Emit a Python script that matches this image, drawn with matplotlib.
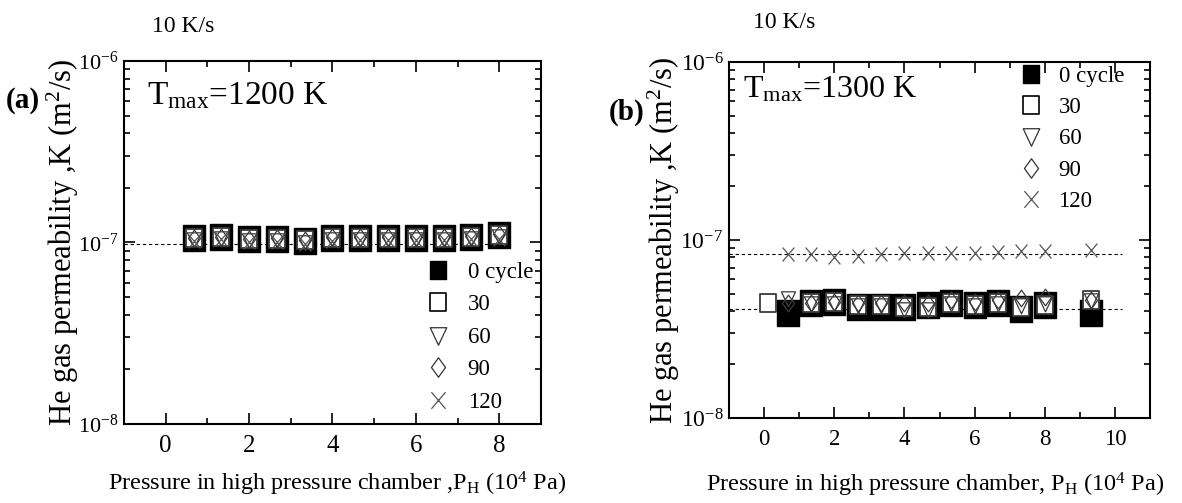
import matplotlib
matplotlib.use("Agg")
import matplotlib.pyplot as plt
from matplotlib.lines import Line2D
from matplotlib.path import Path
from matplotlib.ticker import LogLocator, MultipleLocator, NullFormatter, FixedLocator
import numpy as np

plt.rcParams['font.family'] = ['Liberation Serif', 'DejaVu Serif']
plt.rcParams['mathtext.fontset'] = 'custom'
plt.rcParams['mathtext.rm'] = 'Liberation Serif'
plt.rcParams['mathtext.it'] = 'Liberation Serif'
plt.rcParams['mathtext.bf'] = 'Liberation Serif:bold'

# ---------------- data ----------------
cycles = ["0 cycle", "30", "60", "90", "120"]

# panel (a): Tmax = 1200 K
x_a = [0.67, 1.33, 2.0, 2.67, 3.33, 4.0, 4.67, 5.33, 6.0, 6.67, 7.33, 8.0]
k0_a = [1.06, 1.07, 1.045, 1.045, 1.02, 1.06, 1.06, 1.06, 1.06, 1.06, 1.075, 1.10]
k30_a = [1.06, 1.07, 1.05, 1.05, 1.03, 1.06, 1.06, 1.06, 1.06, 1.06, 1.07, 1.10]
k60_a = [1.04, 1.06, 1.03, 1.03, 1.00, 1.04, 1.05, 1.05, 1.05, 1.05, 1.06, 1.08]
k90_a = [1.06, 1.07, 1.05, 1.06, 1.03, 1.07, 1.07, 1.07, 1.07, 1.07, 1.08, 1.11]
k120_a = [1.02, 1.04, 1.01, 1.00, 0.98, 1.02, 1.03, 1.03, 1.03, 1.03, 1.04, 1.04]
fit_a = [0.98]
fit_range_a = [-1.0, 8.2]

# panel (b): Tmax = 1300 K
x0_b = [0.67, 1.33, 2.0, 2.67, 3.33, 4.0, 4.67, 5.33, 6.0, 6.67, 7.33, 8.0, 9.33]
k0_b = [0.39, 0.44, 0.45, 0.42, 0.42, 0.42, 0.43, 0.44, 0.43, 0.44, 0.41, 0.43, 0.39]
x30_b = [0.1, 1.33, 2.0, 2.67, 3.33, 4.0, 4.67, 5.33, 6.0, 6.67, 7.33, 8.0, 9.33]
k30_b = [0.44, 0.44, 0.45, 0.43, 0.43, 0.42, 0.42, 0.44, 0.43, 0.44, 0.42, 0.43, 0.46]
x_b = [0.67, 1.33, 2.0, 2.67, 3.33, 4.0, 4.67, 5.33, 6.0, 6.67, 7.33, 8.0, 9.33]
k60_b = [0.47, 0.44, 0.44, 0.43, 0.43, 0.41, 0.41, 0.44, 0.43, 0.44, 0.43, 0.44, 0.46]
k90_b = [0.44, 0.44, 0.45, 0.44, 0.44, 0.44, 0.44, 0.46, 0.45, 0.46, 0.47, 0.48, 0.46]
k120_b = [0.83, 0.83, 0.806, 0.813, 0.834, 0.84, 0.84, 0.84, 0.84, 0.86, 0.87, 0.87, 0.88]
fit_b = [0.834, 0.41]
fit_range_b = [-1.0, 10.2]

scale = 1e-7
xticks_a = [0, 2, 4, 6, 8]
xticks_b = [0, 2, 4, 6, 8, 10]
yticks = [1e-8, 1e-7, 1e-6]
ytick_labels = [r"$\mathregular{10^{-8}}$", r"$\mathregular{10^{-7}}$", r"$\mathregular{10^{-6}}$"]

# ---------------- markers (slightly narrow, as in the reference) ----------------
sx = 0.85
def rect():
    return Path([(-sx, -1), (sx, -1), (sx, 1), (-sx, 1), (-sx, -1)],
                [Path.MOVETO, Path.LINETO, Path.LINETO, Path.LINETO, Path.CLOSEPOLY])
def tri_down():
    return Path([(-sx, 0.8), (sx, 0.8), (0, -1), (-sx, 0.8)],
                [Path.MOVETO, Path.LINETO, Path.LINETO, Path.CLOSEPOLY])
def diamond():
    return Path([(0, -1), (sx * 0.85, 0), (0, 1), (-sx * 0.85, 0), (0, -1)],
                [Path.MOVETO, Path.LINETO, Path.LINETO, Path.LINETO, Path.CLOSEPOLY])
def cross():
    return Path([(-sx * 0.8, -0.8), (sx * 0.8, 0.8), (-sx * 0.8, 0.8), (sx * 0.8, -0.8)],
                [Path.MOVETO, Path.LINETO, Path.MOVETO, Path.LINETO])

M_SQ, M_TRI, M_DIA, M_X = rect(), tri_down(), diamond(), cross()
gray = "#3a3a3a"

def draw_series(ax, xs, ys, kind):
    ys = np.asarray(ys) * scale
    if kind == 0:
        ax.plot(xs, ys, ls='none', marker=M_SQ, ms=18.5, mfc='black', mec='black', mew=1.0, zorder=3)
    elif kind == 1:
        ax.plot(xs, ys, ls='none', marker=M_SQ, ms=13, mfc='white', mec=gray, mew=1.3, zorder=4)
    elif kind == 2:
        ax.plot(xs, ys, ls='none', marker=M_TRI, ms=12, mfc='none', mec=gray, mew=0.9, zorder=5)
    elif kind == 3:
        ax.plot(xs, ys, ls='none', marker=M_DIA, ms=12, mfc='none', mec=gray, mew=0.9, zorder=6)
    else:
        ax.plot(xs, ys, ls='none', marker=M_X, ms=10, mfc='none', mec="#555555", mew=0.9, zorder=7)

def legend_handles():
    return [
        Line2D([], [], ls='none', marker=M_SQ, ms=13.5, mfc='black', mec='black'),
        Line2D([], [], ls='none', marker=M_SQ, ms=13.5, mfc='white', mec='black', mew=1.2),
        Line2D([], [], ls='none', marker=M_TRI, ms=14, mfc='none', mec='#333333', mew=0.9),
        Line2D([], [], ls='none', marker=M_DIA, ms=14, mfc='none', mec='#333333', mew=0.9),
        Line2D([], [], ls='none', marker=M_X, ms=12, mfc='none', mec='#555555', mew=0.9),
    ]

def style_axes(ax, xlim, xticks, xtick_fs, ytick_fs):
    ax.set_yscale('log')
    ax.set_ylim(1e-8, 1e-6)
    ax.set_xlim(*xlim)
    ax.set_xticks(xticks)
    ax.set_xticklabels([str(t) for t in xticks], fontsize=xtick_fs)
    ax.xaxis.set_minor_locator(MultipleLocator(1))
    ax.yaxis.set_major_locator(FixedLocator(yticks))
    ax.set_yticklabels(ytick_labels, fontsize=ytick_fs)
    ax.yaxis.set_minor_locator(LogLocator(base=10, subs=np.arange(2, 10)))
    ax.yaxis.set_minor_formatter(NullFormatter())
    ax.tick_params(which='both', direction='in', top=True, right=True, width=1.2)
    ax.tick_params(which='major', length=8)
    ax.tick_params(axis='y', which='major', pad=4)
    ax.tick_params(axis='x', which='major', pad=8)
    ax.tick_params(which='minor', length=4)
    for s in ax.spines.values():
        s.set_linewidth(1.5)

fig = plt.figure(figsize=(11.82, 5.03), dpi=100)
fig.patch.set_facecolor('white')

# ---------------- panel (a) ----------------
ax1 = fig.add_axes([0.1049, 0.1571, 0.3528, 0.7216])
style_axes(ax1, (-1, 9), xticks_a, 18, 16)
ax1.plot(fit_range_a, [fit_a[0] * scale] * 2, ls=(0, (3, 2.5)), color='black', lw=0.8, zorder=2)
for kind, ys in enumerate([k0_a, k30_a, k60_a, k90_a, k120_a]):
    draw_series(ax1, x_a, ys, kind)
ax1.set_ylabel(r"He gas permeability ,K (m$\mathregular{^2}$/s)", fontsize=22)
ax1.yaxis.set_label_coords(-0.102, 0.5)
ax1.set_xlabel(r"Pressure in high pressure chamber ,P$\mathregular{_H}$ (10$\mathregular{^4}$ Pa)",
               fontsize=17.5)
ax1.xaxis.set_label_coords(0.51, -0.125)
ax1.text(0.055, 0.88, r"T$\mathregular{_{max}}$=1200 K", transform=ax1.transAxes, fontsize=24)
leg1 = ax1.legend(legend_handles(), cycles, loc='upper left', bbox_to_anchor=(0.725, 0.447),
                  frameon=False, fontsize=16.5, handlelength=1.0, handletextpad=0.8,
                  labelspacing=0.5, borderpad=0, borderaxespad=0)
fig.text(23 / 1182, 1 - 100 / 503, "(a)", fontsize=21, fontweight='bold', ha='center', va='center')
fig.text(183 / 1182, 1 - 27 / 503, "10 K/s", fontsize=17, ha='center', va='center')

# ---------------- panel (b) ----------------
ax2 = fig.add_axes([0.6168, 0.1690, 0.3562, 0.7078])
style_axes(ax2, (-1, 11), xticks_b, 16.5, 17)
for lvl in fit_b:
    ax2.plot(fit_range_b, [lvl * scale] * 2, ls=(0, (3, 2.5)), color='black', lw=0.8, zorder=2)
draw_series(ax2, x0_b, k0_b, 0)
draw_series(ax2, x30_b, k30_b, 1)
draw_series(ax2, x_b, k60_b, 2)
draw_series(ax2, x_b, k90_b, 3)
draw_series(ax2, x_b, k120_b, 4)
ax2.set_ylabel(r"He gas permeability ,K (m$\mathregular{^2}$/s)", fontsize=22)
ax2.yaxis.set_label_coords(-0.112, 0.5)
ax2.set_xlabel(r"Pressure in high pressure chamber, P$\mathregular{_H}$ (10$\mathregular{^4}$ Pa)",
               fontsize=17.5)
ax2.xaxis.set_label_coords(0.49, -0.148)
ax2.text(0.033, 0.9, r"T$\mathregular{_{max}}$=1300 K", transform=ax2.transAxes, fontsize=23)
leg2 = ax2.legend(legend_handles(), cycles, loc='upper left', bbox_to_anchor=(0.69, 0.99),
                  frameon=False, fontsize=16.5, handlelength=1.0, handletextpad=0.7,
                  labelspacing=0.45, borderpad=0, borderaxespad=0)
fig.text(627 / 1182, 1 - 112 / 503, "(b)", fontsize=21, fontweight='bold', ha='center', va='center')
fig.text(784 / 1182, 1 - 23 / 503, "10 K/s", fontsize=17, ha='center', va='center')

fig.savefig("out.png", dpi=100, facecolor='white')
